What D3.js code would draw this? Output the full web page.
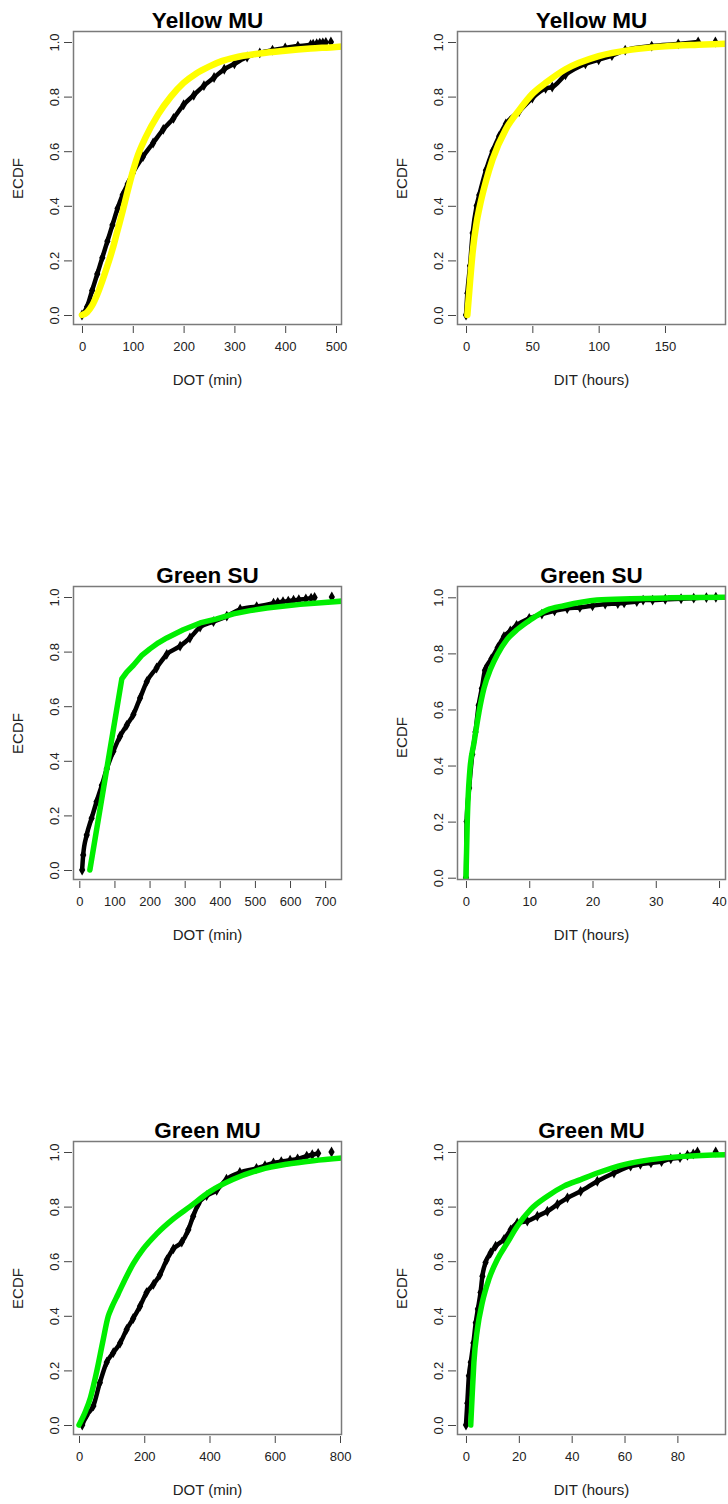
<!DOCTYPE html>
<html>
<head>
<meta charset="utf-8">
<script src="https://cdn.jsdelivr.net/npm/d3@7"></script>
<style>
  html, body { margin: 0; padding: 0; background: #fff; }
  svg { display: block; }
  text { font-family: "Liberation Sans", Arial, sans-serif; }
</style>
</head>
<body>
<svg id="chart" width="728" height="1504"></svg>
<script>
// ---------------- DATA ----------------
const panelTitles = ["Yellow MU", "Yellow MU", "Green SU", "Green SU", "Green MU", "Green MU"];
const xLabels = ["DOT (min)", "DIT (hours)", "DOT (min)", "DIT (hours)", "DOT (min)", "DIT (hours)"];
const fitColors = ["#ffff00", "#ffff00", "#00ee00", "#00ee00", "#00ee00", "#00ee00"];
const xTicks = [
  [0, 100, 200, 300, 400, 500],
  [0, 50, 100, 150],
  [0, 100, 200, 300, 400, 500, 600, 700],
  [0, 10, 20, 30, 40],
  [0, 200, 400, 600, 800],
  [0, 20, 40, 60, 80]
];
const xDomains = [[-17.7, 511.8], [-6.8, 196.0], [-18, 748], [-1.42, 41.1], [-18.4, 806.1], [-3.4, 98.4]];
const yTicks = [0, 0.2, 0.4, 0.6, 0.8, 1.0];

// Yellow MU, DOT
const ymDotEcdfX = [0, 10, 20, 30, 40, 50, 60, 70, 80, 90, 100, 120, 140, 160, 180, 200, 220, 240, 260, 280, 300, 325, 350, 375, 400, 425, 450];
const ymDotEcdfY = [0, 0.03, 0.09, 0.15, 0.21, 0.27, 0.33, 0.39, 0.44, 0.48, 0.52, 0.58, 0.63, 0.68, 0.72, 0.77, 0.805, 0.84, 0.87, 0.9, 0.92, 0.945, 0.96, 0.97, 0.978, 0.985, 0.99];
const ymDotTailX = [455, 462, 468, 474, 480, 490];
const ymDotTailY = [0.992, 0.994, 0.996, 0.997, 0.998, 1.0];
const ymDotFitX = [0, 10, 20, 30, 40, 50, 60, 70, 80, 90, 100, 110, 125, 150, 175, 200, 225, 250, 275, 300, 350, 400, 450, 500, 512];
const ymDotFitY = [0, 0.01, 0.035, 0.075, 0.125, 0.18, 0.24, 0.31, 0.38, 0.455, 0.525, 0.585, 0.65, 0.735, 0.8, 0.85, 0.885, 0.91, 0.93, 0.943, 0.958, 0.968, 0.976, 0.982, 0.984];

// Yellow MU, DIT
const ymDitEcdfX = [0, 1, 3, 5, 8, 10, 15, 20, 25, 30, 40, 50, 60, 65, 75, 90, 100, 110, 120, 140, 160, 175];
const ymDitEcdfY = [0, 0.08, 0.18, 0.3, 0.4, 0.44, 0.53, 0.6, 0.655, 0.7, 0.745, 0.795, 0.83, 0.835, 0.88, 0.92, 0.935, 0.95, 0.97, 0.985, 0.993, 1.0];
const ymDitTailX = [188];
const ymDitTailY = [1.0];
const ymDitFitX = [1, 3, 5, 8, 10, 15, 20, 30, 40, 50, 60, 75, 100, 125, 150, 175, 196];
const ymDitFitY = [0, 0.12, 0.23, 0.34, 0.39, 0.49, 0.57, 0.68, 0.75, 0.81, 0.85, 0.9, 0.948, 0.972, 0.984, 0.99, 0.994];

// Green SU, DOT
const gsDotEcdfX = [8, 11, 21, 35, 49, 64, 78, 97, 116, 135, 154, 173, 192, 220, 249, 287, 315, 344, 382, 420, 458, 505, 553];
const gsDotEcdfY = [0, 0.055, 0.128, 0.19, 0.25, 0.31, 0.37, 0.435, 0.49, 0.53, 0.57, 0.63, 0.69, 0.74, 0.79, 0.82, 0.85, 0.89, 0.91, 0.93, 0.955, 0.965, 0.977];
const gsDotTailX = [565, 580, 595, 610, 625, 645, 660, 670, 719];
const gsDotTailY = [0.98, 0.983, 0.985, 0.988, 0.99, 0.993, 0.996, 0.998, 1.0];
const gsDotFitX = [30, 121, 135, 154, 177, 201, 225, 249, 296, 344, 391, 439, 486, 534, 629, 749];
const gsDotFitY = [0, 0.70, 0.725, 0.75, 0.785, 0.81, 0.832, 0.85, 0.88, 0.905, 0.92, 0.938, 0.95, 0.96, 0.973, 0.985];

// Green SU, DIT
const gsDitEcdfX = [0, 0.1, 0.5, 1, 1.5, 2, 2.5, 3, 4, 5, 6, 7, 8, 10, 12, 14, 16, 18, 20, 22];
const gsDitEcdfY = [0, 0.2, 0.32, 0.44, 0.52, 0.615, 0.675, 0.74, 0.78, 0.82, 0.86, 0.88, 0.9, 0.925, 0.94, 0.952, 0.96, 0.964, 0.97, 0.976];
const gsDitTailX = [24, 25, 27, 28, 29.5, 31.5, 34, 36, 38, 39.5];
const gsDitTailY = [0.978, 0.98, 0.985, 0.99, 0.99, 0.993, 0.995, 0.997, 0.999, 1.0];
const gsDitFitX = [0, 0.2, 0.6, 1.3, 2.05, 2.84, 3.9, 4.95, 6.5, 8.1, 10.2, 12.8, 15.5, 20.7, 26, 32, 41];
const gsDitFitY = [0, 0.2, 0.38, 0.485, 0.59, 0.675, 0.745, 0.795, 0.85, 0.885, 0.92, 0.955, 0.97, 0.99, 0.995, 0.998, 1.0];

// Green MU, DOT
const gmDotEcdfX = [10, 23, 44, 64, 85, 105, 126, 146, 166, 187, 207, 228, 248, 269, 289, 315, 335, 350, 366, 391, 422, 452, 493, 544];
const gmDotEcdfY = [0, 0.035, 0.07, 0.155, 0.23, 0.265, 0.3, 0.35, 0.39, 0.435, 0.485, 0.515, 0.55, 0.605, 0.645, 0.67, 0.715, 0.765, 0.81, 0.84, 0.86, 0.9, 0.925, 0.94];
const gmDotTailX = [570, 596, 620, 647, 670, 698, 715, 733, 774];
const gmDotTailY = [0.95, 0.96, 0.965, 0.97, 0.975, 0.985, 0.99, 0.995, 1.0];
const gmDotFitX = [0, 20, 35, 55, 72, 90, 100, 120, 146, 166, 197, 238, 289, 340, 401, 473, 555, 636, 718, 807];
const gmDotFitY = [0, 0.05, 0.1, 0.2, 0.3, 0.4, 0.43, 0.48, 0.545, 0.59, 0.645, 0.7, 0.755, 0.8, 0.855, 0.9, 0.935, 0.955, 0.968, 0.978];

// Green MU, DIT
const gmDitEcdfX = [0, 0.5, 1.1, 1.8, 2.8, 3.7, 4.5, 5.5, 6.2, 7.4, 9.3, 11.2, 14.4, 16.9, 19.4, 23.2, 27, 30.8, 34.6, 38.4, 43.4, 49.7, 56, 62.3];
const gmDitEcdfY = [0, 0.08, 0.18, 0.23, 0.3, 0.375, 0.425, 0.485, 0.545, 0.595, 0.63, 0.655, 0.68, 0.715, 0.74, 0.747, 0.765, 0.783, 0.808, 0.832, 0.856, 0.893, 0.923, 0.948];
const gmDitTailX = [66, 70, 74, 77.5, 81, 83.8, 86, 87.6, 94.5];
const gmDitTailY = [0.955, 0.96, 0.965, 0.975, 0.98, 0.988, 0.993, 1.0, 1.0];
const gmDitFitX = [1.8, 2.4, 3.0, 4.3, 6.2, 8.7, 11.9, 15.6, 19.4, 24.5, 30.8, 37.1, 43.4, 49.7, 59.8, 69.9, 82.5, 98.5];
const gmDitFitY = [0, 0.12, 0.23, 0.35, 0.45, 0.535, 0.607, 0.667, 0.728, 0.79, 0.838, 0.875, 0.899, 0.923, 0.954, 0.972, 0.984, 0.99];

const ecdfXs = [ymDotEcdfX, ymDitEcdfX, gsDotEcdfX, gsDitEcdfX, gmDotEcdfX, gmDitEcdfX];
const ecdfYs = [ymDotEcdfY, ymDitEcdfY, gsDotEcdfY, gsDitEcdfY, gmDotEcdfY, gmDitEcdfY];
const tailXs = [ymDotTailX, ymDitTailX, gsDotTailX, gsDitTailX, gmDotTailX, gmDitTailX];
const tailYs = [ymDotTailY, ymDitTailY, gsDotTailY, gsDitTailY, gmDotTailY, gmDitTailY];
const fitXs = [ymDotFitX, ymDitFitX, gsDotFitX, gsDitFitX, gmDotFitX, gmDitFitX];
const fitYs = [ymDotFitY, ymDitFitY, gsDotFitY, gsDitFitY, gmDotFitY, gmDitFitY];

// ---------------- LAYOUT ----------------
const colLeft = [73, 457];
const boxW = 269;
const rowTop = [31, 586, 1141];
const boxH = 294;
// y pixel offsets (from box top) of value 1.0 and 0.0
const yOff = [[11, 284], [11, 284], [11, 284], [11.3, 291.7], [11, 284], [11, 284]];
// the Green SU DOT fit has a sharp corner; draw it with straight segments
const fitCurves = [d3.curveMonotoneX, d3.curveMonotoneX, d3.curveLinear, d3.curveMonotoneX, d3.curveMonotoneX, d3.curveMonotoneX];

const svg = d3.select("#chart");
svg.append("rect").attr("width", 728).attr("height", 1504).attr("fill", "#fff");

const fmtY = d3.format(".1f");

for (let i = 0; i < 6; i++) {
  const L = colLeft[i % 2];
  const T = rowTop[Math.floor(i / 2)];
  const R = L + boxW, B = T + boxH;
  const x = d3.scaleLinear().domain(xDomains[i]).range([L, R]);
  const y = d3.scaleLinear().domain([0, 1]).range([T + yOff[i][1], T + yOff[i][0]]);

  const g = svg.append("g");
  const clipId = "clip" + i;
  g.append("clipPath").attr("id", clipId)
    .append("rect").attr("x", L).attr("y", T).attr("width", boxW).attr("height", boxH);

  const plot = g.append("g").attr("clip-path", `url(#${clipId})`);

  // ECDF (black)
  const ecdf = ecdfXs[i].map((v, k) => [v, ecdfYs[i][k]]);
  const tail = tailXs[i].map((v, k) => [v, tailYs[i][k]]);
  const line = d3.line().x(d => x(d[0])).y(d => y(d[1])).curve(d3.curveMonotoneX);
  plot.append("path").datum(ecdf.concat(tail.slice(0, Math.max(0, tail.length - 1))))
    .attr("d", line).attr("fill", "none").attr("stroke", "#000")
    .attr("stroke-width", 4.5).attr("stroke-linejoin", "round").attr("stroke-linecap", "round");
  const diamond = d3.symbol().type(d3.symbolDiamond).size(34);
  plot.selectAll(".pt").data(ecdf.concat(tail)).enter().append("path")
    .attr("d", diamond)
    .attr("transform", d => `translate(${x(d[0])},${y(d[1])})`)
    .attr("fill", "#000");

  // fitted curve
  const fit = fitXs[i].map((v, k) => [v, fitYs[i][k]]);
  const fitLine = d3.line().x(d => x(d[0])).y(d => y(d[1])).curve(fitCurves[i]);
  plot.append("path").datum(fit)
    .attr("d", fitLine).attr("fill", "none").attr("stroke", fitColors[i])
    .attr("stroke-width", i < 2 ? 6.5 : 5.5).attr("stroke-linejoin", "round").attr("stroke-linecap", "round");

  // box
  g.append("rect").attr("x", L + 0.5).attr("y", T + 0.5).attr("width", boxW - 1).attr("height", boxH - 1)
    .attr("fill", "none").attr("stroke", "#7a7a7a").attr("stroke-width", 1.5);

  // x axis
  const xAxis = d3.axisBottom(x).tickValues(xTicks[i]).tickSize(7).tickPadding(9).tickFormat(d3.format("d"));
  const gx = g.append("g").attr("transform", `translate(0,${B + 1})`).call(xAxis);
  gx.select(".domain").remove();
  gx.selectAll(".tick line").attr("stroke", "#444");
  gx.selectAll(".tick text").attr("fill", "#222").attr("font-size", 13)
    .attr("font-family", "Liberation Sans, Arial, sans-serif");

  // y axis
  const yAxis = d3.axisLeft(y).tickValues(yTicks).tickSize(8).tickFormat(fmtY);
  const gy = g.append("g").attr("transform", `translate(${L - 1},0)`).call(yAxis);
  gy.select(".domain").remove();
  gy.selectAll(".tick line").attr("stroke", "#444");
  gy.selectAll(".tick text")
    .attr("fill", "#222").attr("font-size", 13)
    .attr("font-family", "Liberation Sans, Arial, sans-serif")
    .attr("x", null).attr("dy", null)
    .attr("text-anchor", "middle")
    .attr("transform", "translate(-18,0) rotate(-90)")
    .attr("y", 0).attr("dy", "0.35em");

  // titles / labels
  g.append("text").attr("x", (L + R) / 2).attr("y", T - 3)
    .attr("text-anchor", "middle").attr("font-weight", "bold").attr("font-size", 22.5)
    .attr("fill", "#000").text(panelTitles[i]);
  g.append("text").attr("x", (L + R) / 2).attr("y", B + 60)
    .attr("text-anchor", "middle").attr("font-size", 15).attr("fill", "#222").text(xLabels[i]);
  g.append("text").attr("transform", `translate(${L - 50},${T + (yOff[i][0] + yOff[i][1]) / 2}) rotate(-90)`)
    .attr("text-anchor", "middle").attr("font-size", 15).attr("fill", "#222").text("ECDF");
}
</script>
</body>
</html>
